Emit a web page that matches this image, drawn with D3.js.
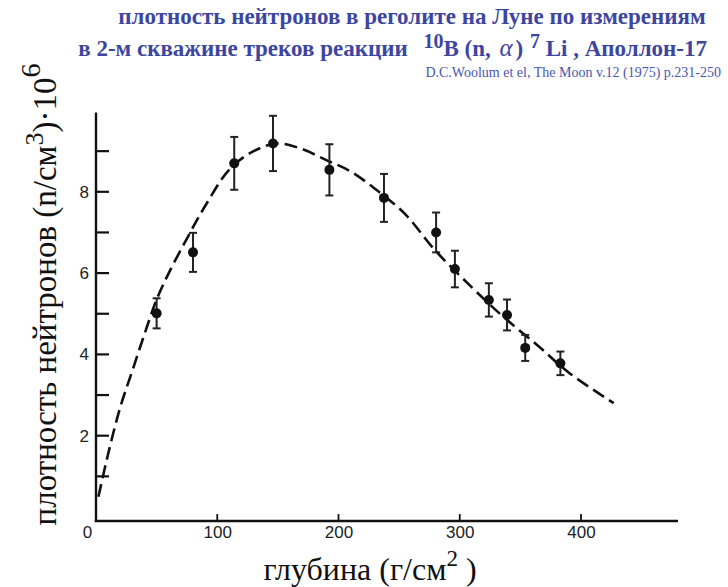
<!DOCTYPE html>
<html>
<head>
<meta charset="utf-8">
<script src="https://cdn.jsdelivr.net/npm/d3@7"></script>
<style>
  body { margin: 0; background: #fff; }
  svg { display: block; }
  .tick text { font-family: "Liberation Sans", Arial, sans-serif; font-size: 17px; fill: #222; }
</style>
</head>
<body>
<div id="chart"></div>
<script>
// measured points: depth (g/cm2), density (1e6 n/cm3), error
const depths = [50, 80, 114, 146, 192.5, 237.5, 280.5, 296, 324, 339, 354, 383];
const densities = [5.01, 6.51, 8.70, 9.19, 8.54, 7.85, 7.00, 6.10, 5.34, 4.97, 4.16, 3.78];
const errors = [0.37, 0.48, 0.65, 0.68, 0.63, 0.59, 0.49, 0.45, 0.41, 0.38, 0.32, 0.29];

// dashed calculated curve
const curveDepths = [2, 10, 20, 30, 40, 50, 60, 75, 90, 110, 130, 150, 170, 190, 210, 235, 255, 280, 310, 335, 365, 390, 427];
const curveValues = [0.5, 1.55, 2.7, 3.6, 4.5, 5.35, 6.0, 6.85, 7.65, 8.55, 9.0, 9.19, 9.05, 8.78, 8.5, 7.96, 7.45, 6.55, 5.65, 4.95, 4.2, 3.55, 2.8];

const yTicks = [1, 2, 3, 4, 5, 6, 7, 8, 9];
const xTicks = [0, 100, 200, 300, 400];

const width = 728;
const height = 587;

const x = d3.scaleLinear().domain([0, 400]).range([96, 581]);
const y = d3.scaleLinear().domain([0, 10]).range([517, 110.5]);

const svg = d3.select("#chart")
  .append("svg")
  .attr("width", width)
  .attr("height", height);

// titles
const titleColor = "#3c46a0";
svg.append("text")
  .attr("x", 412)
  .attr("y", 24)
  .attr("text-anchor", "middle")
  .attr("font-family", "Liberation Serif, serif")
  .attr("font-weight", "bold")
  .attr("font-size", 23)
  .attr("fill", titleColor)
  .text("плотность нейтронов в реголите на Луне по измерениям");

const t2 = svg.append("text")
  .attr("x", 707)
  .attr("y", 56)
  .attr("text-anchor", "end")
  .attr("font-family", "Liberation Serif, serif")
  .attr("font-weight", "bold")
  .attr("font-size", 23)
  .attr("fill", titleColor);
t2.append("tspan").text("в 2-м скважине треков реакции ");
t2.append("tspan").attr("dx", 10).attr("dy", -8).attr("font-size", 20).text("10");
t2.append("tspan").attr("dy", 8).text("B (n, ");
t2.append("tspan").attr("dx", 3).attr("font-style", "italic").attr("font-weight", "normal").attr("font-size", 25).text("α");
t2.append("tspan").attr("dx", 3).text(") ");
t2.append("tspan").attr("dx", 1).attr("dy", -8).attr("font-size", 20).text("7");
t2.append("tspan").attr("dy", 8).text(" Li , Аполлон-17");

svg.append("text")
  .attr("x", 721)
  .attr("y", 77)
  .attr("text-anchor", "end")
  .attr("font-family", "Liberation Serif, serif")
  .attr("font-size", 14)
  .attr("fill", "#4b55b0")
  .text("D.C.Woolum et el, The Moon v.12 (1975) p.231-250");

// axes: labels from d3 axes, tick marks drawn inward
const yAxis = d3.axisLeft(y)
  .tickValues(yTicks)
  .tickSize(0)
  .tickPadding(7)
  .tickFormat(d => d % 2 === 0 ? d : "");

const yg = svg.append("g")
  .attr("transform", `translate(${x(0)},0)`)
  .call(yAxis);
yg.select(".domain").remove();

const xAxis = d3.axisBottom(x)
  .tickValues(xTicks)
  .tickSize(0)
  .tickPadding(5);

const xg = svg.append("g")
  .attr("transform", `translate(0,${y(-0.1)})`)
  .call(xAxis);
xg.select(".domain").remove();
xg.selectAll(".tick").filter(d => d === 0).select("text").attr("dx", -9);

const marks = svg.append("g").attr("stroke", "#111");

marks.selectAll(".ytick")
  .data(yTicks)
  .enter()
  .append("line")
  .attr("class", "ytick")
  .attr("x1", x(0))
  .attr("x2", x(0) + 13)
  .attr("y1", d => y(d))
  .attr("y2", d => y(d))
  .attr("stroke-width", 2.2);

marks.selectAll(".xtick")
  .data(xTicks.filter(d => d > 0))
  .enter()
  .append("line")
  .attr("class", "xtick")
  .attr("x1", d => x(d))
  .attr("x2", d => x(d))
  .attr("y1", y(-0.1))
  .attr("y2", y(-0.1) - 7)
  .attr("stroke-width", 1.8);

marks.append("line")
  .attr("x1", x(0)).attr("x2", x(0))
  .attr("y1", y(-0.1) + 1).attr("y2", y(9.95))
  .attr("stroke-width", 2.4);
marks.append("line")
  .attr("x1", x(0) - 1.2).attr("x2", x(480))
  .attr("y1", y(-0.1)).attr("y2", y(-0.1))
  .attr("stroke-width", 2.4);

// axis titles
const yl = svg.append("text")
  .attr("transform", `translate(56,${(527 + 62) / 2}) rotate(-90)`)
  .attr("text-anchor", "middle")
  .attr("font-family", "Liberation Serif, serif")
  .attr("font-size", 33)
  .attr("fill", "#111");
yl.append("tspan").text("плотность нейтронов (n/см");
yl.append("tspan").attr("dy", -13).attr("font-size", 26).text("3");
yl.append("tspan").attr("dy", 13).text(")·10");
yl.append("tspan").attr("dy", -16).attr("font-size", 28).text("6");

const xl = svg.append("text")
  .attr("x", 370)
  .attr("y", 580)
  .attr("text-anchor", "middle")
  .attr("font-family", "Liberation Serif, serif")
  .attr("font-size", 32)
  .attr("fill", "#111");
xl.append("tspan").text("глубина (г/см");
xl.append("tspan").attr("dy", -14).attr("font-size", 23).text("2");
xl.append("tspan").attr("dy", 14).text(" )");

// curve
const line = d3.line()
  .x((d, i) => x(curveDepths[i]))
  .y(d => y(d))
  .curve(d3.curveCatmullRom);

svg.append("path")
  .datum(curveValues)
  .attr("d", line)
  .attr("fill", "none")
  .attr("stroke", "#111")
  .attr("stroke-width", 2.6)
  .attr("stroke-dasharray", "13,6");

// error bars
const bars = svg.append("g")
  .selectAll("g")
  .data(densities)
  .enter()
  .append("g")
  .attr("stroke", "#222")
  .attr("stroke-width", 2);

bars.append("line")
  .attr("x1", (d, i) => x(depths[i]))
  .attr("x2", (d, i) => x(depths[i]))
  .attr("y1", (d, i) => y(d - errors[i]))
  .attr("y2", (d, i) => y(d + errors[i]));
bars.append("line")
  .attr("x1", (d, i) => x(depths[i]) - 4)
  .attr("x2", (d, i) => x(depths[i]) + 4)
  .attr("y1", (d, i) => y(d + errors[i]))
  .attr("y2", (d, i) => y(d + errors[i]));
bars.append("line")
  .attr("x1", (d, i) => x(depths[i]) - 4)
  .attr("x2", (d, i) => x(depths[i]) + 4)
  .attr("y1", (d, i) => y(d - errors[i]))
  .attr("y2", (d, i) => y(d - errors[i]));

svg.append("g")
  .selectAll("circle")
  .data(densities)
  .enter()
  .append("circle")
  .attr("cx", (d, i) => x(depths[i]))
  .attr("cy", d => y(d))
  .attr("r", 5)
  .attr("fill", "#111");
</script>
</body>
</html>
